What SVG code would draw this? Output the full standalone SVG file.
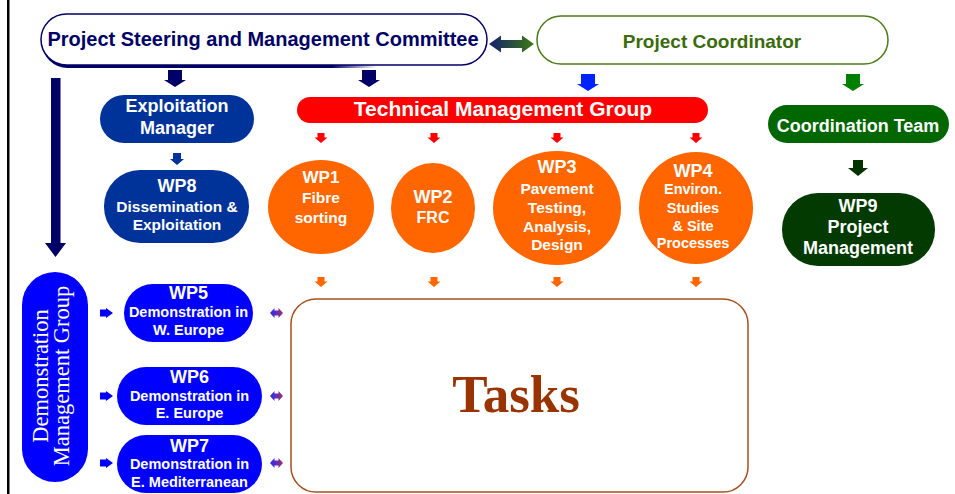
<svg xmlns="http://www.w3.org/2000/svg" xmlns:xlink="http://www.w3.org/1999/xlink" width="955" height="494" viewBox="0 0 955 494">
<defs>
<style>
.t{font-family:"Liberation Sans",Arial,sans-serif;font-weight:bold;text-anchor:middle;fill:#fff}
.s{font-size:15.5px}
.h{font-size:18px}
.d{font-size:14.5px}
</style>
<linearGradient id="gNG" x1="0" x2="1" y1="0" y2="0"><stop offset="0" stop-color="#14206e"/><stop offset="1" stop-color="#3c7a12"/></linearGradient>
<linearGradient id="gBP" x1="0" x2="1" y1="0" y2="0"><stop offset="0" stop-color="#2a2aff"/><stop offset="1" stop-color="#993366"/></linearGradient>
<linearGradient id="gSh" x1="0" x2="1" y1="0" y2="0"><stop offset="0" stop-color="#000066"/><stop offset="0.65" stop-color="#000066"/><stop offset="0.75" stop-color="#000066" stop-opacity="0"/></linearGradient>
<path id="aBig" d="M-7,0 H7 V10 H11 L0,17 L-11,10 H-7 Z"/>
<path id="aMid" d="M-5,0 H5 V8 H10 L0,16 L-10,8 H-5 Z"/>
<path id="aSm" d="M-4,0 H4 V6 H7 L0,12 L-7,6 H-4 Z"/>
<path id="aTiny" d="M-3.5,0 H3.5 V4.5 H6.5 L0,10 L-6.5,4.5 H-3.5 Z"/>
<path id="aRight" d="M0,-3.5 H6 V-5 L13,0 L6,5 V3.5 H0 Z"/>
<path id="aDbl" d="M0,0 L4.5,-5 V-2.5 H8.5 V-5 L13,0 L8.5,5 V2.5 H4.5 V5 Z"/>
</defs>
<rect width="955" height="494" fill="#fff"/>
<rect x="7" y="0" width="2.5" height="494" fill="#000"/>

<g id="steering">
<rect x="42" y="17" width="446" height="51" rx="25.5" fill="url(#gSh)"/>
<rect x="41" y="14" width="446" height="51" rx="25.5" fill="#fff" stroke="#000066" stroke-width="1.5"/>
<text x="263" y="46" class="t" style="font-size:20px;fill:#000066">Project Steering and Management Committee</text>
</g>
<g id="coordinator">
<rect x="537" y="16" width="351" height="48" rx="24" fill="#fff" stroke="#4a7a1a" stroke-width="1.5"/>
<text x="712" y="48" class="t" style="font-size:19px;fill:#3a6b0c">Project Coordinator</text>
</g>
<g id="exploitation-manager">
<rect x="100" y="95" width="154" height="48" rx="24" fill="#003399"/>
<text x="177" y="112" class="t h">Exploitation</text>
<text x="177" y="134" class="t h">Manager</text>
</g>
<g id="wp8">
<rect x="104" y="170" width="145" height="73" rx="36" fill="#003399"/>
<text x="177" y="192" class="t h">WP8</text>
<text x="177" y="212" class="t s">Dissemination &amp;</text>
<text x="177" y="230" class="t s">Exploitation</text>
</g>
<g id="technical-group">
<rect x="297" y="97" width="411" height="26" rx="13" fill="#ff0000"/>
<text x="503" y="116" class="t" style="font-size:21px">Technical Management Group</text>
</g>
<g id="wp1">
<ellipse cx="321" cy="207" rx="53" ry="47" fill="#ff6600"/>
<text x="321" y="183" class="t" style="font-size:17px">WP1</text>
<text x="321" y="203" class="t s">Fibre</text>
<text x="321" y="223" class="t s">sorting</text>
</g>
<g id="wp2">
<ellipse cx="433" cy="208" rx="42" ry="45" fill="#ff6600"/>
<text x="433" y="203" class="t h">WP2</text>
<text x="433" y="223" class="t" style="font-size:16px">FRC</text>
</g>
<g id="wp3">
<ellipse cx="557" cy="208" rx="64" ry="57" fill="#ff6600"/>
<text x="557" y="173" class="t h">WP3</text>
<text x="557" y="194" class="t s">Pavement</text>
<text x="557" y="213" class="t s">Testing,</text>
<text x="557" y="232" class="t s">Analysis,</text>
<text x="557" y="250" class="t s">Design</text>
</g>
<g id="wp4">
<ellipse cx="696" cy="208" rx="57" ry="56" fill="#ff6600"/>
<text x="693" y="177" class="t h">WP4</text>
<text x="693" y="194" class="t d">Environ.</text>
<text x="693" y="213" class="t d">Studies</text>
<text x="693" y="231" class="t d">&amp; Site</text>
<text x="693" y="248" class="t d">Processes</text>
</g>
<g id="coordination-team">
<rect x="768" y="105" width="181" height="38" rx="19" fill="#006600"/>
<text x="858" y="132" class="t h">Coordination Team</text>
</g>
<g id="wp9">
<rect x="782" y="193" width="153" height="73" rx="36" fill="#023a02"/>
<text x="858" y="212" class="t h">WP9</text>
<text x="858" y="233" class="t h">Project</text>
<text x="858" y="254" class="t h">Management</text>
</g>
<g id="demonstration-group">
<rect x="22" y="272" width="66" height="210" rx="33" fill="#0000ff"/>
<g transform="translate(55,376) rotate(-90)">
<text x="0" y="-7" text-anchor="middle" fill="#fff" style="font-family:'Liberation Serif','Times New Roman',serif;font-size:22.5px">Demonstration</text>
<text x="0" y="14" text-anchor="middle" fill="#fff" style="font-family:'Liberation Serif','Times New Roman',serif;font-size:22.5px">Management Group</text>
</g>
</g>
<g id="wp5">
<rect x="124" y="284" width="129" height="58" rx="29" fill="#0000ff"/>
<text x="188.5" y="299" class="t h">WP5</text>
<text x="188.5" y="317" class="t d">Demonstration in</text>
<text x="188.5" y="335" class="t d">W. Europe</text>
</g>
<g id="wp6">
<rect x="117" y="367" width="145" height="58" rx="29" fill="#0000ff"/>
<text x="189.5" y="383" class="t h">WP6</text>
<text x="189.5" y="401" class="t d">Demonstration in</text>
<text x="189.5" y="418" class="t d">E. Europe</text>
</g>
<g id="wp7">
<rect x="117" y="435" width="145" height="58" rx="29" fill="#0000ff"/>
<text x="189.5" y="452" class="t h">WP7</text>
<text x="189.5" y="469" class="t d">Demonstration in</text>
<text x="189.5" y="487" class="t d">E. Mediterranean</text>
</g>
<g id="tasks">
<rect x="291" y="299" width="457" height="193" rx="25" fill="#fff" stroke="#a5501f" stroke-width="1.5"/>
<text x="516" y="412" text-anchor="middle" fill="#993300" style="font-family:'Liberation Serif','Times New Roman',serif;font-weight:bold;font-size:53px">Tasks</text>
</g>

<g id="connectors">
<path d="M489,44 L501,35.5 V40 H522 V35.5 L534,44 L522,52.5 V48 H501 V52.5 Z" fill="url(#gNG)"/>
<use href="#aBig" x="175" y="70" fill="#000066"/>
<use href="#aBig" x="369" y="70" fill="#000066"/>
<use href="#aBig" x="588" y="74" fill="#0022ff"/>
<use href="#aBig" x="853" y="74" fill="#008000"/>
<use href="#aSm" x="177" y="153" fill="#003399"/>
<use href="#aTiny" x="321" y="133" fill="#ff0000"/>
<use href="#aTiny" x="434" y="133" fill="#ff0000"/>
<use href="#aTiny" x="557" y="133" fill="#ff0000"/>
<use href="#aTiny" x="696" y="133" fill="#ff0000"/>
<use href="#aTiny" x="321" y="277" fill="#ff6600"/>
<use href="#aTiny" x="434" y="277" fill="#ff6600"/>
<use href="#aTiny" x="557" y="277" fill="#ff6600"/>
<use href="#aTiny" x="696" y="277" fill="#ff6600"/>
<use href="#aMid" x="858" y="160" fill="#003300"/>
<path d="M51,78 H60.5 V243 H66 L55.5,257 L45,243 H51 Z" fill="#000066"/>
<use href="#aRight" x="100" y="313" fill="#0000ff"/>
<use href="#aRight" x="100" y="396" fill="#0000ff"/>
<use href="#aRight" x="100" y="463" fill="#0000ff"/>
<use href="#aDbl" x="270" y="313" fill="url(#gBP)"/>
<use href="#aDbl" x="270" y="396" fill="url(#gBP)"/>
<use href="#aDbl" x="270" y="463" fill="url(#gBP)"/>
</g>
</svg>
